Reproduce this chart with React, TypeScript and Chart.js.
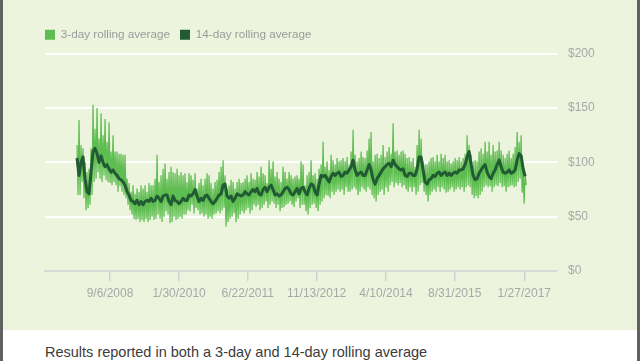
import React, { useEffect, useRef } from 'react';
import { Chart, registerables } from 'chart.js';

Chart.register(...registerables);

// ---- data ----
const TICK_DATES = ['9/6/2008', '1/30/2010', '6/22/2011', '11/13/2012', '4/10/2014', '8/31/2015', '1/27/2017'];
const Y_TICKS = [0, 50, 100, 150, 200];
const SERIES_START = '1/6/2008';
const STEP_DAYS = 14.8;

// 3-day rolling average: local highs and lows per sampling step
const THREE_DAY_HIGH = [
  116, 139, 116, 113, 100, 91, 94, 113, 153, 131,
  150, 122, 145, 125, 140, 119, 137, 110, 125, 110,
  110, 108, 108, 107, 107, 85, 81, 73, 79, 71,
  76, 73, 79, 76, 79, 73, 81, 79, 79, 85,
  107, 82, 88, 94, 99, 85, 91, 96, 91, 90,
  94, 88, 91, 88, 90, 82, 90, 88, 84, 90,
  76, 81, 85, 79, 85, 90, 88, 81, 76, 82,
  84, 91, 96, 102, 88, 76, 79, 84, 82, 76,
  82, 85, 81, 82, 85, 88, 82, 90, 85, 84,
  91, 87, 96, 90, 88, 81, 102, 94, 101, 87,
  91, 85, 82, 96, 91, 85, 91, 88, 85, 87,
  88, 85, 101, 98, 79, 88, 91, 102, 88, 90,
  85, 94, 98, 119, 96, 101, 93, 107, 102, 98,
  104, 101, 102, 104, 101, 105, 98, 110, 130, 107,
  101, 104, 110, 105, 104, 111, 122, 128, 101, 107,
  108, 104, 107, 116, 105, 110, 114, 108, 136, 110,
  111, 107, 110, 111, 108, 104, 105, 101, 104, 96,
  116, 130, 122, 101, 98, 98, 101, 104, 105, 101,
  107, 101, 108, 104, 107, 101, 102, 99, 101, 104,
  102, 105, 101, 104, 108, 125, 116, 107, 101, 102,
  101, 110, 113, 108, 119, 110, 119, 107, 116, 110,
  111, 119, 111, 107, 104, 108, 111, 104, 108, 114,
  128, 119, 125, 94, 90,
];

const THREE_DAY_LOW = [
  70, 70, 82, 67, 56, 58, 61, 70, 82, 85,
  91, 85, 82, 88, 84, 82, 81, 79, 82, 79,
  73, 78, 73, 70, 67, 61, 56, 52, 48, 47,
  48, 45, 47, 45, 48, 45, 47, 50, 47, 48,
  52, 48, 45, 50, 55, 52, 44, 45, 50, 47,
  48, 50, 48, 52, 52, 56, 55, 61, 53, 58,
  56, 52, 53, 50, 52, 48, 50, 48, 52, 53,
  55, 53, 56, 58, 41, 45, 48, 50, 53, 45,
  48, 52, 55, 53, 56, 58, 53, 56, 61, 59,
  61, 56, 58, 61, 64, 58, 61, 64, 62, 58,
  61, 55, 58, 59, 61, 62, 64, 61, 59, 64,
  67, 58, 61, 61, 55, 52, 58, 61, 62, 58,
  55, 61, 64, 67, 70, 69, 67, 73, 70, 73,
  75, 73, 75, 70, 77, 73, 73, 75, 77, 75,
  70, 73, 77, 75, 73, 77, 75, 70, 67, 64,
  70, 73, 75, 70, 77, 73, 79, 82, 77, 81,
  79, 81, 77, 79, 75, 73, 77, 73, 77, 70,
  73, 79, 81, 73, 70, 64, 70, 73, 75, 73,
  77, 73, 77, 75, 72, 73, 75, 77, 73, 75,
  77, 75, 77, 73, 77, 79, 77, 70, 67, 69,
  67, 70, 73, 77, 79, 77, 78, 73, 77, 79,
  78, 81, 77, 78, 73, 77, 78, 79, 77, 78,
  82, 85, 72, 62, 79,
];

// 14-day rolling average
const FOURTEEN_DAY = [
  104, 88, 100, 105, 85, 73, 71, 91, 110, 113,
  108, 100, 106, 100, 96, 98, 94, 91, 93, 90,
  88, 85, 84, 82, 79, 73, 70, 65, 64, 62,
  65, 61, 64, 61, 64, 65, 64, 67, 64, 65,
  69, 67, 64, 69, 70, 70, 64, 61, 69, 65,
  64, 62, 64, 67, 65, 65, 70, 69, 71, 75,
  69, 64, 67, 65, 69, 70, 67, 64, 62, 64,
  67, 70, 71, 79, 80, 69, 67, 69, 64, 67,
  71, 70, 69, 70, 73, 71, 70, 73, 75, 73,
  76, 71, 70, 75, 77, 73, 77, 79, 75, 70,
  71, 69, 70, 73, 76, 77, 75, 71, 70, 73,
  76, 71, 76, 77, 73, 70, 76, 80, 79, 73,
  70, 80, 88, 87, 88, 85, 82, 87, 90, 88,
  90, 91, 87, 88, 91, 90, 93, 96, 102, 93,
  88, 90, 91, 88, 88, 93, 98, 93, 84, 80,
  85, 88, 91, 94, 96, 98, 99, 96, 102, 98,
  96, 94, 93, 94, 88, 87, 90, 90, 88, 88,
  94, 105, 105, 93, 82, 80, 84, 85, 88, 87,
  90, 91, 88, 90, 91, 88, 90, 88, 90, 91,
  90, 93, 93, 94, 98, 105, 110, 98, 88, 84,
  85, 90, 93, 96, 98, 91, 87, 85, 90, 93,
  98, 102, 96, 91, 90, 91, 93, 90, 91, 93,
  102, 108, 106, 94, 87,
];

// ---- helpers / styles ----
const FONT = "'Liberation Sans', Arial, Helvetica, sans-serif";
const LIGHT = '#5ebd50';
const DARK = '#215a33';
const PANEL = '#edf4de';

function dayNum(s: string): number {
  const [m, d, y] = s.split('/').map(Number);
  return Date.UTC(y, m - 1, d) / 86400000;
}

const legendMargin = {
  id: 'legendMargin',
  beforeInit(chart: any) {
    const orig = chart.legend.fit;
    chart.legend.fit = function fit() {
      orig.bind(chart.legend)();
      this.height += 3;
    };
  },
};

function ChartView() {
  const ref = useRef<HTMLCanvasElement | null>(null);

  useEffect(() => {
    if (!ref.current) return;
    const start = dayNum(SERIES_START);
    const threeDay: { x: number; y: number }[] = [];
    THREE_DAY_HIGH.forEach((hi, i) => {
      threeDay.push({ x: start + i * STEP_DAYS, y: hi });
      threeDay.push({ x: start + (i + 0.5) * STEP_DAYS, y: THREE_DAY_LOW[i] });
    });
    const fourteen = FOURTEEN_DAY.map((v, i) => ({ x: start + i * STEP_DAYS, y: v }));
    const tickVals = TICK_DATES.map(dayNum);

    const chart = new Chart(ref.current, {
      type: 'line',
      data: {
        datasets: [
          {
            label: '3-day rolling average',
            data: threeDay,
            borderColor: LIGHT,
            backgroundColor: LIGHT,
            borderWidth: 1.25,
            pointRadius: 0,
            order: 1,
            xAxisID: 'x',
            yAxisID: 'y',
          },
          {
            label: '14-day rolling average',
            data: fourteen,
            borderColor: DARK,
            backgroundColor: DARK,
            borderWidth: 3,
            pointRadius: 0,
            borderJoinStyle: 'round',
            order: 0,
            xAxisID: 'x',
            yAxisID: 'y',
          },
        ],
      },
      options: {
        animation: false,
        responsive: false,
        devicePixelRatio: 1,
        events: [],
        layout: { padding: { left: 35, right: 0, top: 19, bottom: 0 } },
        plugins: {
          tooltip: { enabled: false },
          legend: {
            position: 'top',
            align: 'start',
            labels: {
              boxWidth: 10,
              boxHeight: 10,
              padding: 10,
              color: '#9b9b9b',
              font: { size: 11.7, family: FONT },
              sort: (a: any, b: any) => a.datasetIndex - b.datasetIndex,
              generateLabels: (c: any) =>
                (Chart.defaults.plugins.legend.labels.generateLabels as any)(c).map((l: any) => ({
                  ...l,
                  lineWidth: 0,
                  fillStyle: l.strokeStyle,
                })),
            },
          },
        },
        scales: {
          x: {
            type: 'linear',
            position: 'bottom',
            min: tickVals[0] - 481,
            max: tickVals[tickVals.length - 1] + 242,
            afterBuildTicks: (s: any) => {
              s.ticks = tickVals.map((v) => ({ value: v }));
            },
            afterFit: (s: any) => {
              s.height = 59;
            },
            grid: {
              drawOnChartArea: false,
              drawTicks: true,
              tickLength: 10,
              color: '#d2d2d2',
              lineWidth: 1.5,
            },
            border: { display: true, color: '#d9d9d9', width: 2 },
            ticks: {
              autoSkip: false,
              maxRotation: 0,
              padding: 5,
              color: '#a8a8a8',
              font: { size: 12, family: FONT },
              callback: (_v: any, i: number) => TICK_DATES[i],
            },
          },
          y: {
            type: 'linear',
            position: 'right',
            min: Y_TICKS[0],
            max: Y_TICKS[Y_TICKS.length - 1],
            afterBuildTicks: (s: any) => {
              s.ticks = Y_TICKS.map((v) => ({ value: v }));
            },
            afterFit: (s: any) => {
              s.width = 83;
            },
            grid: {
              drawTicks: false,
              lineWidth: 2,
              color: (ctx: any) => (ctx.tick && ctx.tick.value === 0 ? 'rgba(0,0,0,0)' : '#ffffff'),
            },
            border: { display: false },
            ticks: {
              padding: 11,
              color: '#a8a8a8',
              font: { size: 12, family: FONT },
              callback: (v: any) => '$' + v,
            },
          },
          yLeft: {
            type: 'linear',
            position: 'left',
            display: true,
            grid: { display: false },
            border: { display: false },
            ticks: { display: false },
            afterFit: (s: any) => {
              s.width = 10;
            },
          },
        },
      } as any,
      plugins: [legendMargin],
    });
    return () => chart.destroy();
  }, []);

  return (
    <canvas
      ref={ref}
      width={640}
      height={330}
      style={{ position: 'absolute', left: 0, top: 0, width: 640, height: 330 }}
    />
  );
}

export default function App() {
  return (
    <div
      style={{
        position: 'fixed',
        left: 0,
        top: 0,
        width: 640,
        height: 361,
        overflow: 'hidden',
        background: '#ffffff',
        fontFamily: FONT,
      }}
    >
      <div style={{ position: 'absolute', left: 3, top: 0, width: 634, height: 330, background: PANEL }} />
      <ChartView />
      <div
        style={{
          position: 'absolute',
          left: 45,
          top: 344,
          fontSize: 14.5,
          lineHeight: '17px',
          color: '#3c3c3c',
          whiteSpace: 'nowrap',
        }}
      >
        Results reported in both a 3-day and 14-day rolling average
      </div>
      <div style={{ position: 'absolute', left: 0, top: 0, width: 3, height: 361, background: '#616161' }} />
      <div style={{ position: 'absolute', left: 637, top: 0, width: 3, height: 361, background: '#616161' }} />
    </div>
  );
}
